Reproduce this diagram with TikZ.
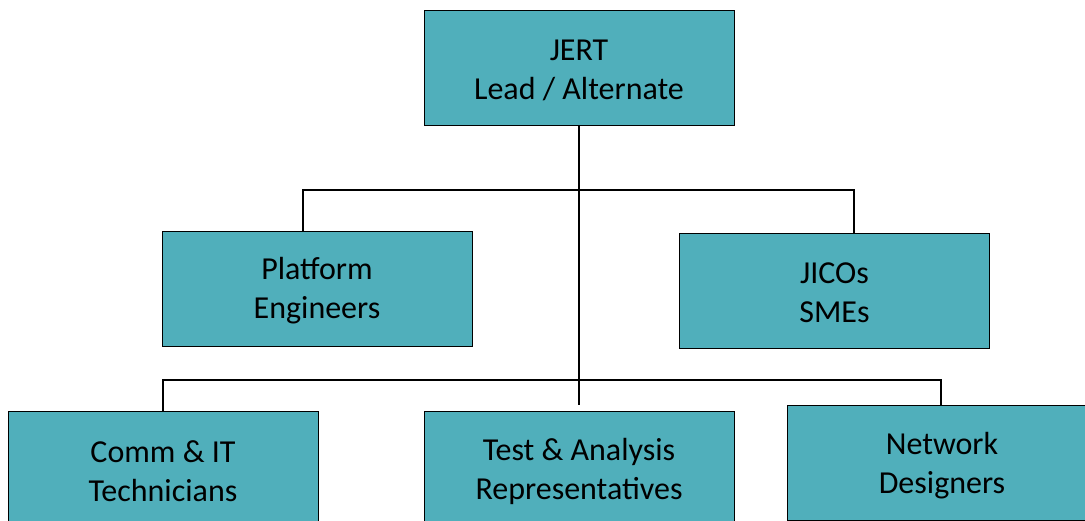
\documentclass[tikz,border=0pt]{standalone}
\usepackage{fontspec}
\setmainfont{Carlito}
\definecolor{boxfill}{RGB}{80,175,187}
\begin{document}
\begin{tikzpicture}[x=1pt,y=-1pt,
  boxtext/.style={font=\fontsize{32}{39}\selectfont, align=center, text=black},
  orgbox/.style={draw=black, line width=0.9pt, fill=boxfill, minimum width=310pt,
    minimum height=115pt, inner sep=0pt},
  link/.style={draw=black, line width=1.4pt}]
\useasboundingbox (0,0) rectangle (1085,521);
% boxes
\node[orgbox] (lead) at (579,68) {};
\node[boxtext] (leadtxt) at (579,70) {JERT\\Lead / Alternate};
\node[orgbox] (plat) at (317,289) {};
\node[boxtext] (plattxt) at (317,291) {Platform\\Engineers};
\node[orgbox] (jico) at (834.5,291) {};
\node[boxtext] (jicotxt) at (834.5,293) {JICOs\\SMEs};
\node[orgbox, anchor=north west] (comm) at (8,411) {};
\node[boxtext] (commtxt) at (163,471) {Comm \& IT\\Technicians};
\node[orgbox, anchor=north west] (test) at (424,411) {};
\node[boxtext] (testtxt) at (579,471) {Test \& Analysis\\Representatives};
\node[orgbox, anchor=north west] (net) at (787,405) {};
\node[boxtext] (nettxt) at (942,466) {Network\\Designers};
% trunk
\coordinate (trunkend) at (579,405);
\coordinate (upper) at (579,190);
\coordinate (lower) at (579,380);
\draw[link] (lead.south) -- (trunkend);
% upper branch
\draw[link] (upper) -| (plat.north -| 303,0);
\draw[link] (upper) -| (jico.north -| 854,0);
% lower branch
\draw[link] (lower) -| (comm.north -| 163,0);
\draw[link] (lower) -| (net.north -| 941,0);
\end{tikzpicture}
\end{document}
